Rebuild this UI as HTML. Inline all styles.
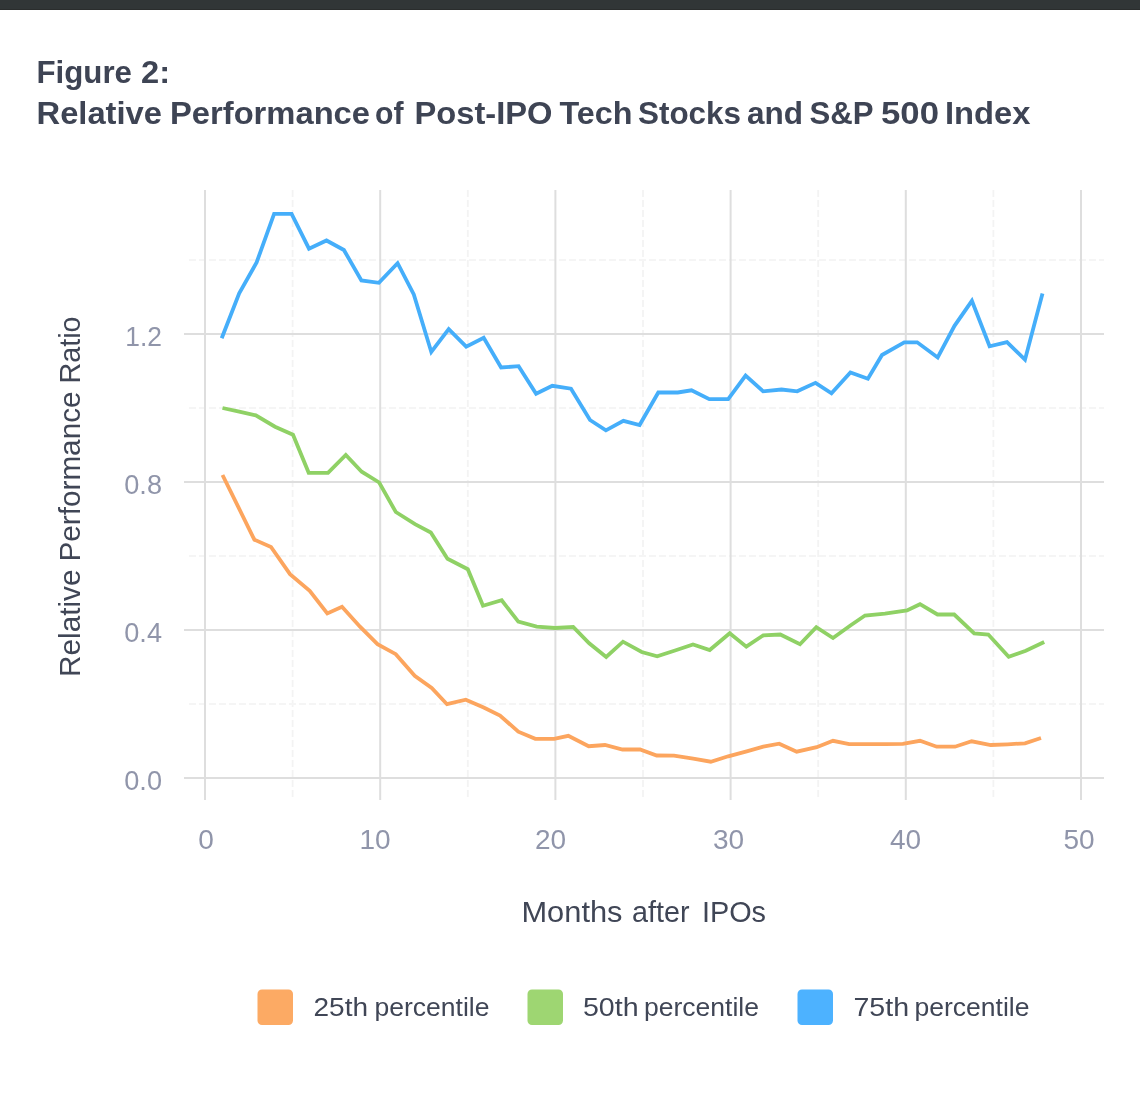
<!DOCTYPE html>
<html lang="en"><head><meta charset="utf-8"><title>Figure 2</title>
<style>
html,body{margin:0;padding:0;background:#fff;}
body{width:1140px;height:1106px;position:relative;overflow:hidden;font-family:"Liberation Sans",sans-serif;}
.bar{position:absolute;left:0;top:0;width:1140px;height:10px;background:#313637;border-bottom:0;box-sizing:border-box;}
.bar:after{content:"";position:absolute;left:0;right:0;bottom:0;height:1px;background:#2a2d2d;}
svg{position:absolute;left:0;top:0;will-change:transform;}
svg text{font-family:"Liberation Sans",sans-serif;}
.ttl{font-size:32px;font-weight:bold;fill:#3e4454;}
.tick{font-size:28px;fill:#9095aa;}
.axt{font-size:29px;fill:#404656;}
.leg{font-size:25px;fill:#404656;}
</style></head><body>
<div class="bar"></div>
<svg width="1140" height="1106" viewBox="0 0 1140 1106">
<text id="t1" class="ttl" y="82.5"><tspan x="36.51" textLength="95.48" lengthAdjust="spacingAndGlyphs">Figure</tspan> <tspan x="140.99" textLength="29.04" lengthAdjust="spacingAndGlyphs">2:</tspan></text>
<text id="t2" class="ttl" y="124.2"><tspan x="36.50" textLength="125.50" lengthAdjust="spacingAndGlyphs">Relative</tspan> <tspan x="170.00" textLength="200.00" lengthAdjust="spacingAndGlyphs">Performance</tspan> <tspan x="375.06" textLength="28.48" lengthAdjust="spacingAndGlyphs">of</tspan> <tspan x="414.50" textLength="138.00" lengthAdjust="spacingAndGlyphs">Post-IPO</tspan> <tspan x="559.51" textLength="72.97" lengthAdjust="spacingAndGlyphs">Tech</tspan> <tspan x="638.00" textLength="103.01" lengthAdjust="spacingAndGlyphs">Stocks</tspan> <tspan x="747.00" textLength="56.00" lengthAdjust="spacingAndGlyphs">and</tspan> <tspan x="809.51" textLength="63.47" lengthAdjust="spacingAndGlyphs">S&amp;P</tspan> <tspan x="881.00" textLength="58.00" lengthAdjust="spacingAndGlyphs">500</tspan> <tspan x="945.01" textLength="85.48" lengthAdjust="spacingAndGlyphs">Index</tspan></text>
<g stroke="#f3f3f3" stroke-width="1.8" stroke-dasharray="7 3" fill="none"><g><line x1="292.6" y1="190" x2="292.6" y2="797"/><line x1="467.8" y1="190" x2="467.8" y2="797"/><line x1="643.0" y1="190" x2="643.0" y2="797"/><line x1="818.2" y1="190" x2="818.2" y2="797"/><line x1="993.4" y1="190" x2="993.4" y2="797"/></g><g stroke="#f5f5f5" stroke-dashoffset="9"><line x1="188" y1="704.0" x2="1104" y2="704.0"/><line x1="188" y1="556.0" x2="1104" y2="556.0"/><line x1="188" y1="408.0" x2="1104" y2="408.0"/><line x1="188" y1="260.0" x2="1104" y2="260.0"/></g></g>
<g stroke="#dedede" stroke-width="2" fill="none"><line x1="205.0" y1="190" x2="205.0" y2="800"/><line x1="380.2" y1="190" x2="380.2" y2="800"/><line x1="555.4" y1="190" x2="555.4" y2="800"/><line x1="730.6" y1="190" x2="730.6" y2="800"/><line x1="905.8" y1="190" x2="905.8" y2="800"/><line x1="1081.0" y1="190" x2="1081.0" y2="800"/><line x1="184" y1="778.0" x2="1104" y2="778.0"/><line x1="184" y1="630.0" x2="1104" y2="630.0"/><line x1="184" y1="482.0" x2="1104" y2="482.0"/><line x1="184" y1="334.0" x2="1104" y2="334.0"/></g>
<g fill="none" stroke-width="3.8" stroke-linejoin="miter" stroke-linecap="butt">
<polyline stroke="#fca55e" points="222.5,475.0 238.5,507.4 254.4,539.7 271.0,547.0 290.0,574.2 309.7,590.8 327.3,613.5 342.0,606.7 360.0,626.7 377.5,644.2 395.8,654.2 414.7,675.8 431.7,688.0 447.0,704.2 465.8,699.7 483.7,707.5 500.0,715.5 518.3,731.7 535.3,738.8 554.2,738.8 568.3,735.8 588.7,746.2 605.0,745.0 622.5,749.5 640.0,749.5 656.7,755.5 674.0,755.7 693.2,758.7 710.8,761.7 728.2,756.3 746.7,751.3 763.3,746.7 779.2,743.7 796.7,751.7 816.7,747.2 833.0,740.8 849.2,744.2 867.9,744.2 885.3,744.2 902.8,743.8 920.0,740.8 936.7,746.7 955.0,746.7 971.7,741.3 990.8,745.0 1007.6,744.3 1025.0,743.3 1041.0,738.0"/>
<polyline stroke="#8fd165" points="222.5,408.0 239.2,411.7 255.8,415.3 275.0,426.7 293.0,434.7 308.7,472.8 328.0,472.8 345.8,455.0 361.7,471.7 379.2,482.5 395.8,512.0 415.0,524.2 430.8,532.5 447.5,558.8 467.8,569.2 483.0,605.8 501.7,600.3 518.3,621.7 536.7,626.7 555.0,628.0 573.2,627.0 589.2,643.3 606.2,657.0 623.0,641.7 641.7,652.0 657.2,656.3 675.8,650.3 693.0,644.5 709.7,650.0 729.7,633.3 746.3,646.7 763.3,635.3 780.3,634.5 800.0,644.2 816.3,627.2 833.0,638.0 850.4,625.5 865.0,615.5 885.0,613.7 907.0,610.5 920.0,604.2 937.5,614.5 954.2,614.5 974.2,633.3 988.3,634.5 1008.7,656.7 1025.8,650.8 1044.2,642.0"/>
<polyline stroke="#45aefa" points="221.7,338.3 239.2,293.3 256.6,262.5 274.1,213.8 291.6,213.8 309.0,248.7 326.5,240.5 343.9,250.0 361.4,280.5 378.9,282.8 397.6,263.2 413.8,294.5 431.3,352.0 448.7,329.2 466.2,346.7 483.7,337.8 501.1,367.5 518.6,366.2 536.1,393.7 552.3,385.8 571.0,388.7 590.0,420.0 605.9,430.3 623.4,420.8 639.6,425.0 658.3,392.5 677.8,392.5 691.5,390.3 709.3,399.2 728.2,399.2 745.6,375.6 763.1,391.3 781.5,389.5 797.2,391.3 815.5,382.8 831.5,393.3 850.4,372.5 867.9,378.7 882.0,355.0 904.3,342.4 917.2,342.3 937.7,357.5 954.5,325.8 971.9,300.8 989.6,346.3 1007.0,342.2 1025.0,359.7 1042.5,293.5"/>
</g>
<g class="tick" lengthAdjust="spacingAndGlyphs">
<text id="y12" x="125.3" y="346" textLength="36.7" lengthAdjust="spacingAndGlyphs">1.2</text>
<text id="y08" x="124.3" y="494" textLength="37.7" lengthAdjust="spacingAndGlyphs">0.8</text>
<text id="y04" x="124.3" y="642" textLength="37.7" lengthAdjust="spacingAndGlyphs">0.4</text>
<text id="y00" x="124.3" y="790" textLength="37.7" lengthAdjust="spacingAndGlyphs">0.0</text>
</g>
<g class="tick" text-anchor="middle">
<text id="x0" x="206" y="849.4">0</text>
<text id="x10" x="375" y="849.4">10</text>
<text id="x20" x="550.5" y="849.4">20</text>
<text id="x30" x="728.5" y="849.4">30</text>
<text id="x40" x="905.5" y="849.4">40</text>
<text id="x50" x="1079" y="849.4">50</text>
</g>
<rect x="257.5" y="989.5" width="35.5" height="35.5" rx="4.5" fill="#fcaa64"/>
<rect x="527.5" y="989.5" width="35.5" height="35.5" rx="4.5" fill="#9ed672"/>
<rect x="797.5" y="989.5" width="35.5" height="35.5" rx="4.5" fill="#4db2ff"/>
<text id="xt" class="axt" y="921.5"><tspan x="521.46" textLength="101.06" lengthAdjust="spacingAndGlyphs">Months</tspan> <tspan x="632.01" textLength="57.48" lengthAdjust="spacingAndGlyphs">after</tspan> <tspan x="701.94" textLength="64.07" lengthAdjust="spacingAndGlyphs">IPOs</tspan></text>
<text id="l1" class="leg" y="1016"><tspan x="313.48" textLength="54.54" lengthAdjust="spacingAndGlyphs">25th</tspan> <tspan x="374.49" textLength="115.01" lengthAdjust="spacingAndGlyphs">percentile</tspan></text>
<text id="l2" class="leg" y="1016"><tspan x="582.95" textLength="55.61" lengthAdjust="spacingAndGlyphs">50th</tspan> <tspan x="643.99" textLength="115.01" lengthAdjust="spacingAndGlyphs">percentile</tspan></text>
<text id="l3" class="leg" y="1016"><tspan x="853.47" textLength="55.59" lengthAdjust="spacingAndGlyphs">75th</tspan> <tspan x="914.49" textLength="115.01" lengthAdjust="spacingAndGlyphs">percentile</tspan></text>
<text id="yt" class="axt" transform="translate(80,0) rotate(-90)"><tspan x="-677.05" textLength="107.57" lengthAdjust="spacingAndGlyphs">Relative</tspan> <tspan x="-561.51" textLength="170.02" lengthAdjust="spacingAndGlyphs">Performance</tspan> <tspan x="-383.53" textLength="67.05" lengthAdjust="spacingAndGlyphs">Ratio</tspan></text>
</svg>
</body></html>
